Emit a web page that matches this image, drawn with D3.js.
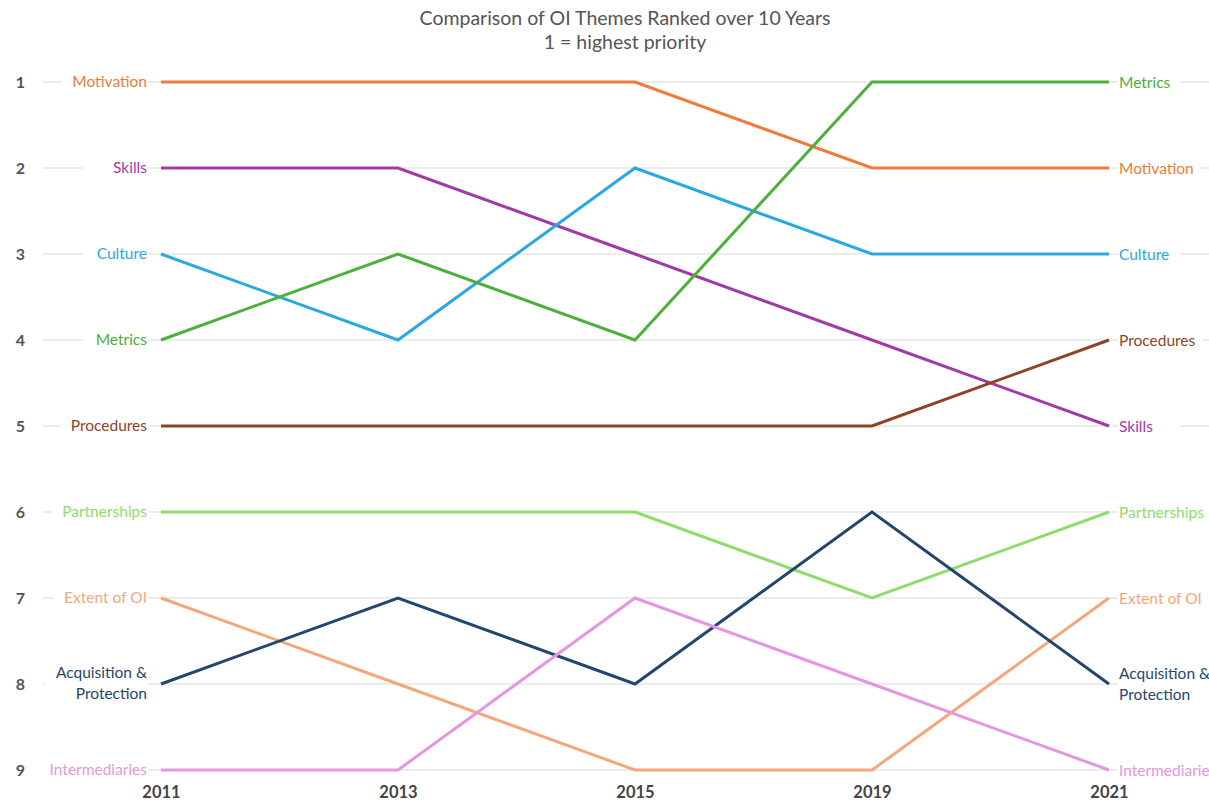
<!DOCTYPE html>
<html>
<head>
<meta charset="utf-8">
<script src="https://cdn.jsdelivr.net/npm/d3@7"></script>
<style>
  html, body { margin: 0; padding: 0; background: #fff; }
  svg { display: block; font-family: Lato, "Open Sans", sans-serif; }
</style>
</head>
<body>
<svg id="chart" width="1209" height="805"></svg>
<script>
// Survey years and rank positions
const years = ["2011", "2013", "2015", "2019", "2021"];
const rankTicks = [1, 2, 3, 4, 5, 6, 7, 8, 9];

// Theme names (label text) and their colours
const themes = ["Motivation", "Skills", "Culture", "Metrics", "Procedures",
                "Partnerships", "Extent of OI", "Acquisition & Protection", "Intermediaries"];
const colors = ["#f07a38", "#a23aa6", "#2aa9e0", "#4cb03a", "#8a4526",
                "#8ddd6a", "#f5a67c", "#24466e", "#e596e0"];

// Rank of each theme in each survey year
const motivation     = [1, 1, 1, 2, 2];
const skills         = [2, 2, 3, 4, 5];
const culture        = [3, 4, 2, 3, 3];
const metrics        = [4, 3, 4, 1, 1];
const procedures     = [5, 5, 5, 5, 4];
const partnerships   = [6, 6, 6, 7, 6];
const extentOfOI     = [7, 8, 9, 9, 7];
const acquisition    = [8, 7, 8, 6, 8];
const intermediaries = [9, 9, 7, 8, 9];

const rankSeries = [motivation, skills, culture, metrics, procedures,
                    partnerships, extentOfOI, acquisition, intermediaries];

const series = themes.map((name, i) => ({
  name,
  color: colors[i],
  values: years.map((y, j) => ({ year: y, rank: rankSeries[i][j] }))
}));

const svg = d3.select("#chart");
const W = 1209;

const x = d3.scalePoint().domain(years).range([161, 1109]);
const y = d3.scaleLinear().domain([1, 9]).range([82, 770]);

// Title
const title = svg.append("g").attr("fill", "#555").attr("text-anchor", "middle")
  .style("font-size", "19.5px");
title.append("text").attr("x", 625).attr("y", 25)
  .text("Comparison of OI Themes Ranked over 10 Years");
title.append("text").attr("x", 625).attr("y", 49).text("1 = highest priority");

// Horizontal rank gridlines
svg.append("g").selectAll("line").data(rankTicks).join("line")
  .attr("x1", 43).attr("x2", W)
  .attr("y1", d => y(d)).attr("y2", d => y(d))
  .attr("stroke", "#e6e6e6").attr("stroke-width", 1.5);

// Rank axis on the left
const yAxis = svg.append("g").attr("transform", "translate(25,0)")
  .call(d3.axisLeft(y).tickValues(rankTicks).tickSize(0).tickPadding(0).tickFormat(d3.format("d")));
yAxis.select(".domain").remove();
yAxis.selectAll("text")
  .attr("fill", "#555").style("font-size", "16px").style("font-weight", "bold")
  .style("font-family", "Lato, sans-serif");

// Year axis at the bottom
const xAxis = svg.append("g").attr("transform", "translate(0,786)")
  .call(d3.axisBottom(x).tickSize(0).tickPadding(0));
xAxis.select(".domain").remove();
xAxis.selectAll("text")
  .attr("fill", "#444").style("font-size", "16.5px").style("font-weight", "bold")
  .style("font-family", "Lato, sans-serif");

// Labels with white backing at each end
function addLabel(g, s, side) {
  const first = side === "left";
  const v = first ? s.values[0] : s.values[s.values.length - 1];
  const tx = first ? x(v.year) - 14 : x(v.year) + 10;
  const ty = y(v.rank) + (first ? 0 : 1);
  const lg = g.append("g");
  const bg = lg.append("rect").attr("fill", "#fff");
  const t = lg.append("text")
    .attr("x", tx).attr("y", ty)
    .attr("text-anchor", first ? "end" : "start")
    .attr("fill", s.color)
    .style("font-size", "15.5px");
  const parts = s.name === "Acquisition & Protection" ? ["Acquisition &", "Protection"] : [s.name];
  if (parts.length === 1) {
    t.attr("dy", "0.35em").text(parts[0]);
  } else {
    parts.forEach((p, k) => {
      t.append("tspan").attr("x", tx).attr("y", ty + (k === 0 ? -11 : 10))
        .attr("dy", "0.35em").text(p);
    });
  }
  const b = t.node().getBBox();
  const w = Math.max(b.width, 54);
  if (first) {
    bg.attr("x", b.x + b.width - w - 10).attr("y", b.y).attr("width", w + 11).attr("height", b.height);
  } else {
    bg.attr("x", b.x - 1).attr("y", b.y).attr("width", w + 8).attr("height", b.height);
  }
}

const labels = svg.append("g");
series.forEach(s => { addLabel(labels, s, "left"); addLabel(labels, s, "right"); });

// Rank lines
const line = d3.line().x(d => x(d.year)).y(d => y(d.rank));
svg.append("g").selectAll("path").data(series).join("path")
  .attr("d", d => line(d.values))
  .attr("fill", "none")
  .attr("stroke", d => d.color)
  .attr("stroke-width", 3)
  .attr("stroke-linejoin", "miter");
</script>
</body>
</html>
